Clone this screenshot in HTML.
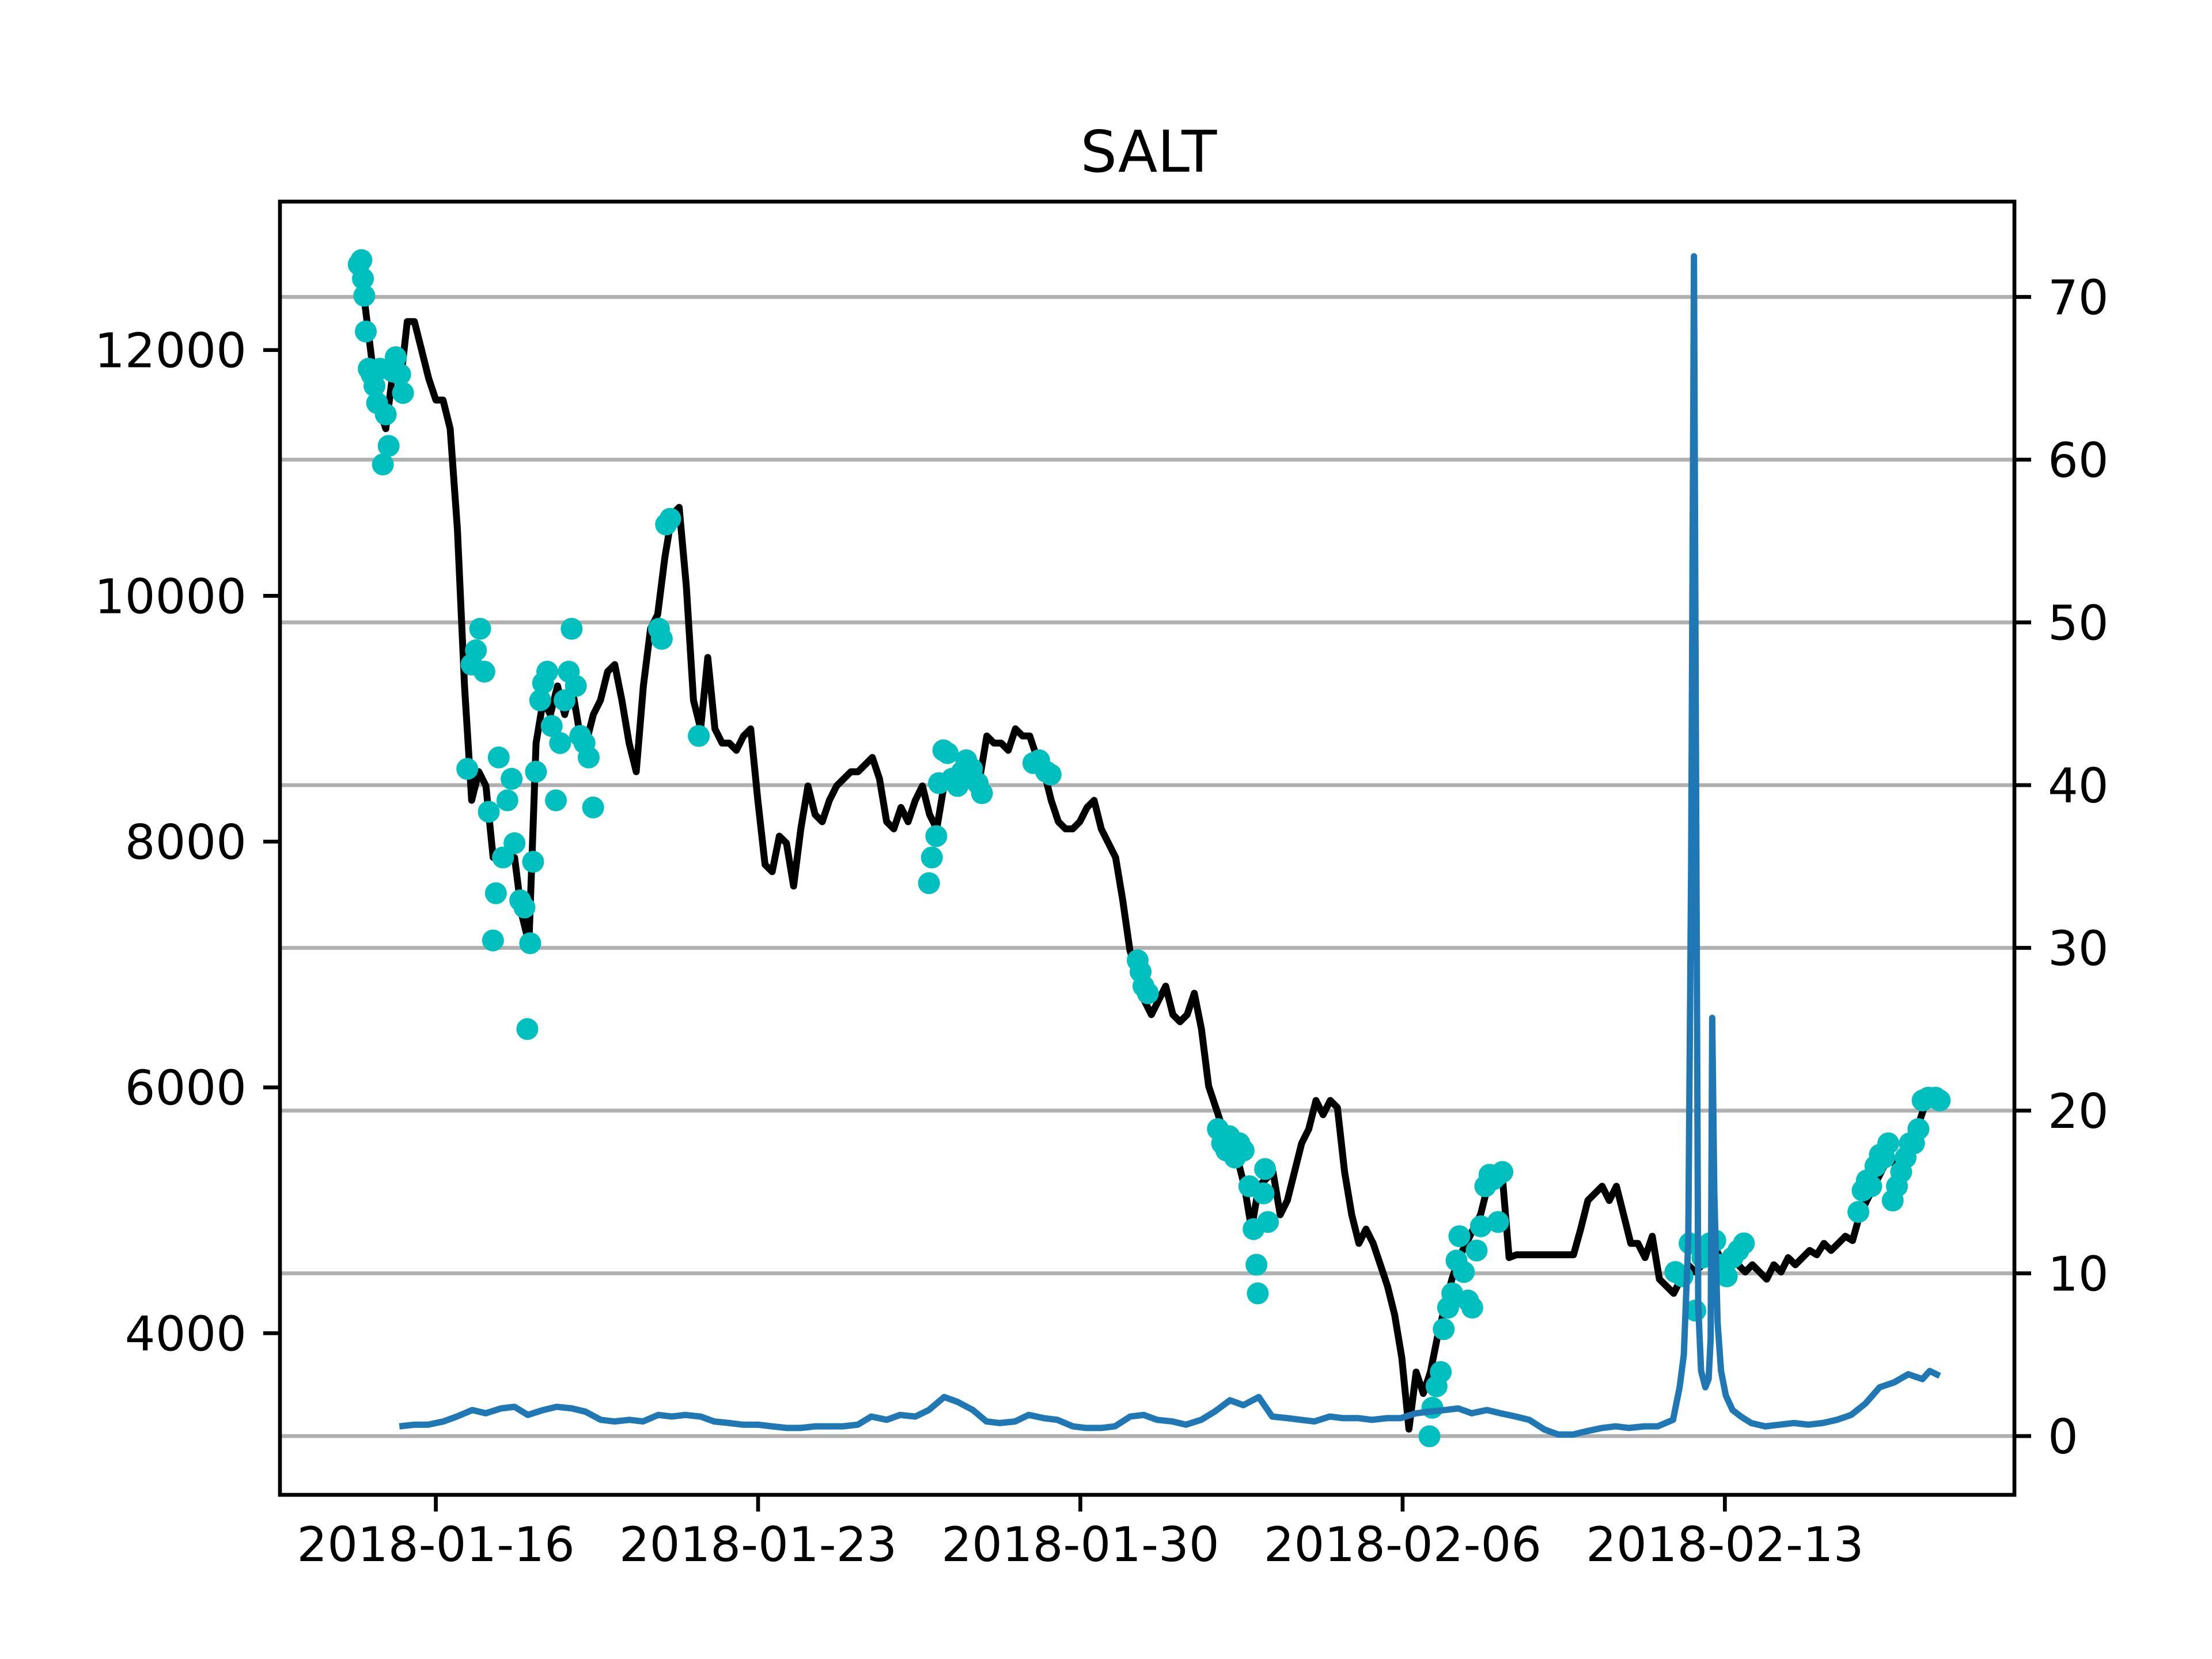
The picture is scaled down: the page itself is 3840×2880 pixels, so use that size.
<!DOCTYPE html>
<html><head><meta charset="utf-8"><style>
html,body{margin:0;padding:0;background:#fff;}
svg{display:block;}
text{font-family:"DejaVu Sans","Liberation Sans",sans-serif;fill:#000;}
</style></head><body>
<svg id="chart" width="3840" height="2880" viewBox="0 0 3840 2880" xmlns="http://www.w3.org/2000/svg">
<rect x="0" y="0" width="3840" height="2880" fill="#fff"/>
<text x="1994" y="298" font-size="100" text-anchor="middle">SALT</text>
<g id="grid"></g>
<g id="plot"></g>
<rect x="486" y="350" width="3011" height="2245" fill="none" stroke="#000" stroke-width="6.7"/>
<g id="axes"></g>
</svg>
<script>
// ---- data ----
const priceStartHour = -41;
const priceStepHours = 3.73;
const prices = [12700,12410,11940,11535,11360,11825,11709,12232,12232,12000,11767,11593,11593,11360,10546,9267,8336,8569,8453,7871,
7871,7871,7871,7406,7173,8802,9150,9034,9267,9034,9267,8918,8802,9034,9150,9383,9441,9150,8802,8569,
9267,9732,9848,10313,10662,10720,10081,9150,8918,9499,8918,8802,8802,8743,8860,8918,8336,7813,7755,8045,
7987,7638,8104,8453,8220,8162,8336,8453,8511,8569,8569,8627,8685,8511,8162,8104,8278,8162,8336,8453,
8220,8104,8453,8511,8569,8685,8627,8511,8860,8802,8802,8743,8918,8860,8860,8685,8569,8336,8162,8104,
8104,8162,8278,8336,8104,7987,7871,7522,7115,6941,6708,6592,6708,6824,6592,6534,6592,6766,6475,6010,
5836,5661,5545,5429,5196,4847,5196,5254,5312,4964,5080,5312,5545,5661,5894,5778,5894,5836,5312,4964,
4731,4847,4731,4557,4382,4149,3801,3219,3684,3510,3684,3975,4208,4440,4615,4731,4847,4964,5196,5254,
5312,4615,4638,4638,4638,4638,4638,4638,4638,4638,4638,4847,5080,5138,5196,5080,5196,4964,4731,4731,
4615,4789,4440,4382,4324,4440,4557,4498,4557,4615,4673,4557,4615,4557,4498,4557,4498,4440,4557,4498,
4615,4557,4615,4673,4638,4731,4673,4731,4789,4754,4964,5080,5196,5312,5429,5371,5429,5545,5661,5836,
5894,5894];

const dotHours = [-40.2,-38.8,-38.0,-37.3,-36.5,-35.0,-33.5,-32.0,-30.6,-29.1,-27.6,-26.1,-24.6,-22.4,-20.9,-18.6,-17.1,
16.4,18.6,20.9,23.1,25.3,27.6,29.8,31.3,32.8,35.0,37.3,39.5,41.0,44.0,46.2,47.7,49.2,50.7,52.2,54.4,55.9,58.1,60.4,62.6,64.8,67.1,69.3,70.8,73.0,75.3,77.5,79.7,82.0,
116.3,117.8,120.0,122.2,137.1,
257.1,258.6,260.9,262.3,264.6,266.8,269.1,272.0,274.3,276.5,279.5,282.5,284.7,
311.5,314.5,318.2,320.5,
365.9,367.4,368.9,371.2,
407.7,409.9,412.1,413.6,416.6,418.9,421.1,424.1,426.3,427.8,428.5,431.5,433.8,432.3,
518.0,519.5,521.7,523.9,525.4,527.7,529.9,532.1,533.6,535.9,538.1,540.3,542.6,544.8,547.1,549.3,551.5,553.8,556.0,553.8,
646.2,649.9,653.6,656.6,660.3,664.1,667.0,670.0,673.0,676.0,679.0,681.9,
741.6,743.8,746.0,748.3,750.5,752.8,755.0,757.2,759.5,761.7,763.9,766.2,768.4,770.6,772.9,775.1,778.1,781.8,784.0];
const dotPrices = [12697,12732,12581,12442,12151,11848,11802,11709,11569,11848,11069,11476,11220,11825,11942,11802,11651,
8592,9441,9557,9732,9383,8243,7196,7580,8685,7871,8336,8511,7987,7522,7464,6475,7173,7836,8569,9150,9290,9383,8941,8336,8802,9150,9383,9732,9267,8860,8802,8685,8278,
9732,9650,10581,10627,8860,
7662,7871,8045,8476,8743,8720,8511,8453,8569,8662,8592,8476,8394,
8639,8662,8569,8546,
7034,6941,6824,6766,
5661,5545,5487,5603,5429,5545,5487,5196,4847,4557,4324,5138,4905,5336,
3161,3393,3568,3684,4033,4208,4324,4591,4789,4498,4266,4208,4673,4870,5196,5289,5254,5289,5312,4905,
4498,4463,4731,4184,4615,4731,4754,4557,4463,4615,4673,4731,
4987,5161,5243,5196,5359,5452,5429,5545,5080,5196,5312,5429,5545,5545,5661,5894,5917,5917,5894];

const blueHours = [-19,-11,-4,4,11,19,26,34,41,48,56,63,71,78,86,93,101,108,116,123,
130,138,145,153,160,168,175,183,190,198,205,212,220,227,235,242,250,257,265,272,
280,287,294,302,309,317,324,332,339,347,354,362,369,376,384,391,399,406,414,421,
429,436,444,451,458,466,473,481,488,496,503,511,518,526,533,540,548,555,563,570,
578,585,593,600,608,615,622,630,637,645,
648.4,650.6,652.9,654.4,655.9,657,658.1,659.6,661.8,663.5,664.6,665.4,666.5,668.2,670,672.5,676,680.4,685.7,
693,700.6,708,715.5,723,730.4,737.8,745.3,752.7,760.2,767.6,775,778.8,784];
const blueValues = [0.6,0.7,0.7,0.9,1.2,1.6,1.4,1.7,1.8,1.3,1.6,1.8,1.7,1.5,1.0,0.9,1.0,0.9,1.3,1.2,
1.3,1.2,0.9,0.8,0.7,0.7,0.6,0.5,0.5,0.6,0.6,0.6,0.7,1.2,1.0,1.3,1.2,1.6,2.4,2.1,
1.6,0.9,0.8,0.9,1.3,1.1,1.0,0.6,0.5,0.5,0.6,1.2,1.3,1.0,0.9,0.7,1.0,1.5,2.2,1.9,
2.4,1.2,1.1,1.0,0.9,1.2,1.1,1.1,1.0,1.1,1.1,1.4,1.5,1.6,1.7,1.4,1.6,1.4,1.2,1.0,
0.4,0.1,0.1,0.3,0.5,0.6,0.5,0.6,0.6,1.0,
3,5,12,35,72.5,40,8,4,3,3.5,6,25.7,15,7,4,2.5,1.6,1.2,0.8,
0.6,0.7,0.8,0.7,0.8,1.0,1.3,2.0,3.0,3.3,3.8,3.5,4.0,3.7];

const leftTicks = [4000,6000,8000,10000,12000];
const rightTicks = [0,10,20,30,40,50,60,70];
const xTickLabels = ['2018-01-16','2018-01-23','2018-01-30','2018-02-06','2018-02-13'];
const xTickHours = [0,168,336,504,672];

// ---- scales ----
const NS='http://www.w3.org/2000/svg';
function xs(h){return 756.6 + h*3.330;}
function yl(p){return 607.7 + (12000-p)*0.21334;}
function yr(v){return 2493 - v*28.25;}
function mk(tag,attrs,parent){const e=document.createElementNS(NS,tag);for(const k in attrs)e.setAttribute(k,attrs[k]);parent.appendChild(e);return e;}

const grid=document.getElementById('grid'), plot=document.getElementById('plot'), axes=document.getElementById('axes');

rightTicks.forEach(v=>{
  const l=mk('line',{x1:486,x2:3497,y1:yr(v),y2:yr(v),stroke:'#b0b0b0','stroke-width':6.7},grid);
  
  
});

let d='';
prices.forEach((p,i)=>{d+=(i?'L':'M')+xs(priceStartHour+i*priceStepHours).toFixed(1)+' '+yl(p).toFixed(1);});
const pl=mk('path',{d:d,fill:'none',stroke:'#000','stroke-width':12,'stroke-linejoin':'round'},plot);



dotHours.forEach((h,i)=>{
  const c=mk('circle',{cx:xs(h),cy:yl(dotPrices[i]),r:19,fill:'#00bfbf'},plot);
  
  
});

let d2='';
blueHours.forEach((h,i)=>{d2+=(i?'L':'M')+xs(h).toFixed(1)+' '+yr(blueValues[i]).toFixed(1);});
const bl=mk('path',{d:d2,fill:'none',stroke:'#1f77b4','stroke-width':11,'stroke-linejoin':'round'},plot);



leftTicks.forEach(v=>{
  const y=yl(v);
  const t=mk('line',{x1:457,x2:486,y1:y,y2:y,stroke:'#000','stroke-width':6.7},axes);
  
  
  const tx=mk('text',{x:428,y:y+30,'font-size':83,'text-anchor':'end'},axes);
  tx.textContent=v;
  
  
});
rightTicks.forEach(v=>{
  const y=yr(v);
  const t=mk('line',{x1:3497,x2:3526,y1:y,y2:y,stroke:'#000','stroke-width':6.7},axes);
  
  
  const tx=mk('text',{x:3555,y:y+30,'font-size':83,'text-anchor':'start'},axes);
  tx.textContent=v;
  
  
});
xTickHours.forEach((h,i)=>{
  const x=xs(h);
  const t=mk('line',{x1:x,x2:x,y1:2595,y2:2624,stroke:'#000','stroke-width':6.7},axes);
  
  
  const tx=mk('text',{x:x,y:2710,'font-size':83,'text-anchor':'middle'},axes);
  tx.textContent=xTickLabels[i];
  
  
});
</script>
</body></html>
